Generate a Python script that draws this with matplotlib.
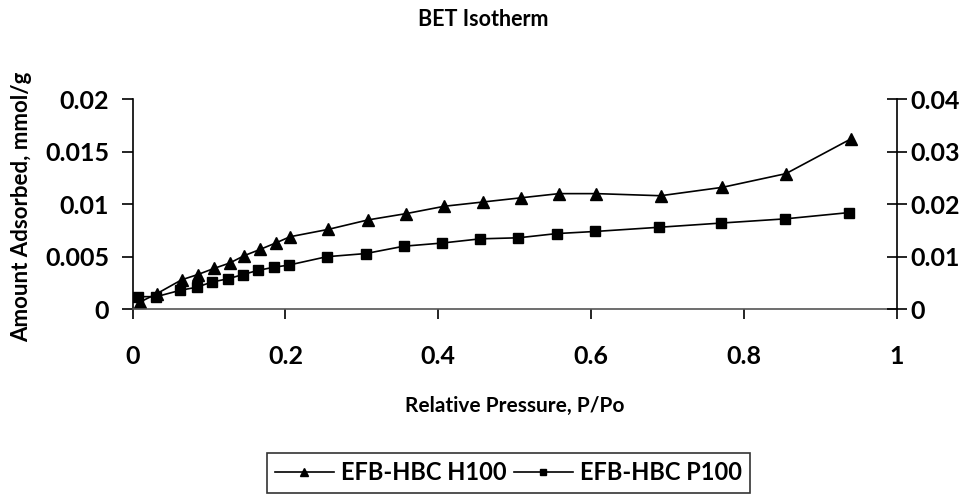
import numpy as np
import matplotlib.pyplot as plt

plt.rcParams['font.family'] = ['Lato', 'DejaVu Sans']
plt.rcParams['font.weight'] = 'bold'

# EFB-HBC H100 (triangles)
x_h100 = [0.010, 0.032, 0.064, 0.085, 0.107, 0.127, 0.146, 0.167, 0.187, 0.206,
          0.256, 0.308, 0.358, 0.408, 0.458, 0.508, 0.558, 0.607, 0.691, 0.772,
          0.855, 0.940]
y_h100 = [0.0007, 0.0015, 0.0028, 0.0033, 0.0039, 0.0044, 0.0051, 0.0057, 0.0063, 0.0069,
          0.0076, 0.0085, 0.0091, 0.0098, 0.0102, 0.0106, 0.0110, 0.0110, 0.0108, 0.0116,
          0.0129, 0.0162]

# EFB-HBC P100 (squares)
x_p100 = [0.007, 0.031, 0.062, 0.084, 0.104, 0.125, 0.144, 0.164, 0.185, 0.204,
          0.254, 0.305, 0.355, 0.405, 0.455, 0.505, 0.555, 0.605, 0.689, 0.770,
          0.854, 0.938]
y_p100 = [0.0012, 0.0012, 0.0018, 0.0021, 0.0026, 0.0029, 0.0033, 0.0037, 0.0040, 0.0042,
          0.0050, 0.0053, 0.0060, 0.0063, 0.0067, 0.0068, 0.0072, 0.0074, 0.0078, 0.0082,
          0.0086, 0.0092]

left_ticks = [0, 0.005, 0.01, 0.015, 0.02]
left_labels = ['0', '0.005', '0.01', '0.015', '0.02']
right_ticks = [0, 0.01, 0.02, 0.03, 0.04]
right_labels = ['0', '0.01', '0.02', '0.03', '0.04']
x_ticks = [0, 0.2, 0.4, 0.6, 0.8, 1]
x_labels = ['0', '0.2', '0.4', '0.6', '0.8', '1']

fig = plt.figure(figsize=(9.72, 4.97), dpi=100)
ax = fig.add_axes([0.1365, 0.3777, 0.786, 0.4231])

l1, = ax.plot(x_h100, y_h100, color='black', lw=1.2, marker='^', ms=9, label='EFB-HBC H100')
l2, = ax.plot(x_p100, y_p100, color='black', lw=1.2, marker='s', ms=7.5, label='EFB-HBC P100')

ax.set_xlim(0, 1)
ax.set_ylim(0, 0.02)
ax.set_xticks(x_ticks)
ax.set_xticklabels(x_labels)
ax.set_yticks(left_ticks)
ax.set_yticklabels(left_labels)
ax.tick_params(axis='y', direction='out', length=8, width=1.2, labelsize=18, pad=9)
ax.tick_params(axis='x', direction='out', length=7, width=1.2, labelsize=18, pad=19)
for lab in ax.get_xticklabels() + ax.get_yticklabels():
    lab.set_fontweight('bold')
ax.spines['top'].set_visible(False)
ax.spines['right'].set_visible(False)
ax.spines['left'].set_linewidth(1.2)
ax.spines['bottom'].set_linewidth(1.2)
ax.spines['bottom'].set_color('#555555')

ax2 = ax.twinx()
ax2.set_ylim(0, 0.04)
ax2.set_yticks(right_ticks)
ax2.set_yticklabels(right_labels)
ax2.tick_params(axis='y', direction='inout', length=14, width=1.2, labelsize=18, pad=3)
for lab in ax2.get_yticklabels():
    lab.set_fontweight('bold')
for s in ['top', 'left', 'bottom']:
    ax2.spines[s].set_visible(False)
ax2.spines['right'].set_linewidth(1.2)

fig.text(0.5295, 1 - 406 / 497, 'Relative Pressure, P/Po', ha='center', va='center',
         fontsize=15, fontweight='bold')
fig.text(22 / 972, 1 - 207 / 497, 'Amount Adsorbed, mmol/g', ha='center', va='center',
         rotation=90, fontsize=16, fontweight='bold')
fig.text(0.497, 1 - 19 / 497, 'BET Isotherm', ha='center', va='center',
         fontsize=15.5, fontweight='bold')

leg = fig.legend(handles=[l1, l2], loc='center', bbox_to_anchor=(0.523, 1 - 473 / 497), ncol=2,
                 frameon=True, fancybox=False, edgecolor='black', fontsize=17,
                 handlelength=2.5, columnspacing=0.3, handletextpad=0.3, borderpad=0.35,
                 markerscale=0.65)
leg.get_frame().set_linewidth(1.2)
for t in leg.get_texts():
    t.set_fontweight('bold')

fig.savefig('out.png', dpi=100)
